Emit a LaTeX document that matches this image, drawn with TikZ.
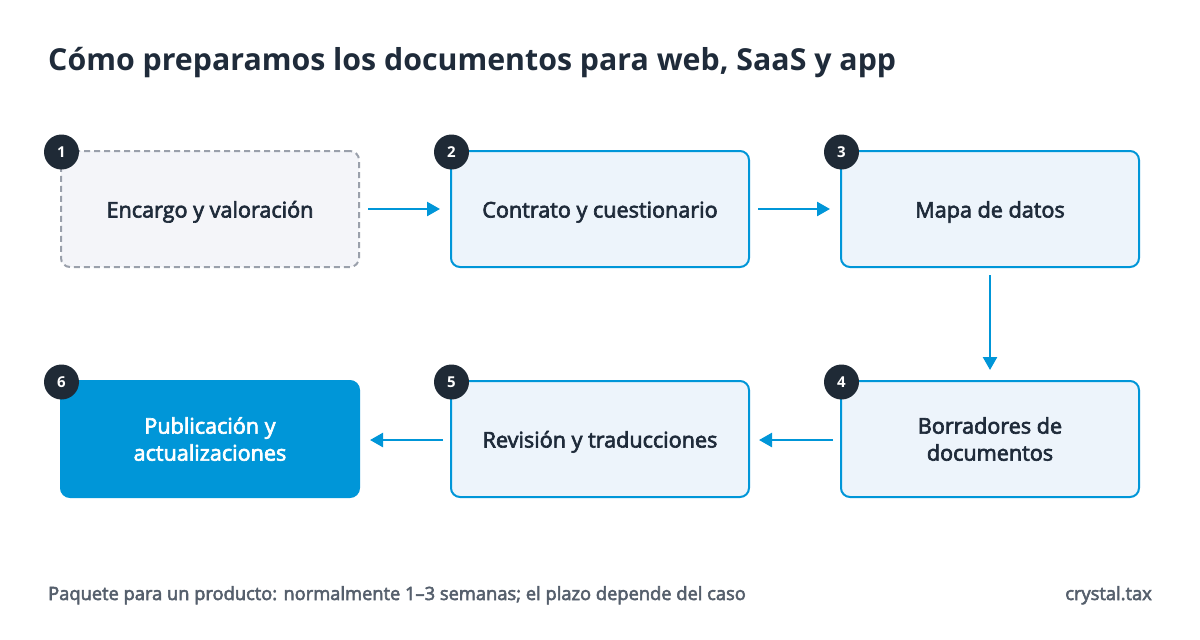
\documentclass[tikz,border=0pt]{standalone}
\usepackage{fontspec}
\setmainfont{Open Sans}
\newfontfamily\sbfont{Open Sans}[FakeBold=3]
\newcommand\bfont{\normalfont\bfseries}
\usetikzlibrary{arrows.meta}
\definecolor{ink}{HTML}{1F2B3A}
\definecolor{blue}{HTML}{0096D8}
\definecolor{boxfill}{HTML}{EDF4FB}
\definecolor{greyfill}{HTML}{F4F5F9}
\definecolor{greyline}{HTML}{9AA0AB}
\definecolor{foot}{HTML}{555F6C}
\definecolor{badge}{HTML}{1F2A36}
\tikzset{
  stepbox/.style={draw=blue, line width=2pt, fill=boxfill, rounded corners=9pt,
    minimum width=298pt, minimum height=116pt, text=ink, align=center,
    font=\sbfont\fontsize{21.6}{27}\selectfont, inner sep=0pt},
  oneline/.style={text height=22pt, text depth=5pt},
  firstbox/.style={stepbox, draw=greyline, fill=greyfill, dash pattern=on 6pt off 4pt},
  lastbox/.style={stepbox, draw=blue, fill=blue, text=white},
  badgec/.style={circle, fill=badge, minimum size=35pt, inner sep=0pt, text=white,
    font=\bfont\fontsize{15}{15}\selectfont},
  flow/.style={draw=blue, line width=2.5pt, -{Triangle[length=13pt,width=14pt]}},
}
\begin{document}
\begin{tikzpicture}[x=1pt,y=-1pt]
\fill[white] (0,0) rectangle (1200,640);
\useasboundingbox (0,0) rectangle (1200,640);
\node[anchor=base west, text=ink, font=\bfont\fontsize{30.3}{34}\selectfont, inner sep=0pt] (title) at (48,70) {Cómo preparamos los documentos para web, SaaS y app};

\node[firstbox, oneline] (b1) at (210,209) {Encargo y valoración};
\node[stepbox, oneline] (b2) at (600,209) {Contrato y cuestionario};
\node[stepbox, oneline] (b3) at (990,209) {Mapa de datos};
\node[stepbox] (b4) at (990,439) {Borradores de\\documentos};
\node[stepbox, oneline] (b5) at (600,439) {Revisión y traducciones};
\node[lastbox] (b6) at (210,439) {Publicación y\\actualizaciones};

\foreach \b/\n in {b1/1,b2/2,b3/3,b4/4,b5/5,b6/6}{
  \node[badgec] (n\n) at ([shift={(1.5pt,-2pt)}]\b.north west) {\n};
}

\draw[flow] ([xshift=8pt]b1.east) -- ([xshift=-10pt]b2.west);
\draw[flow] ([xshift=8pt]b2.east) -- ([xshift=-10pt]b3.west);
\draw[flow] ([yshift=-7pt]b3.south) -- ([yshift=10pt]b4.north);
\draw[flow] ([shift={(-7pt,-1pt)}]b4.west) -- ([shift={(9pt,-1pt)}]b5.east);
\draw[flow] ([shift={(-7pt,-1pt)}]b5.west) -- ([shift={(10pt,-1pt)}]b6.east);

\node[anchor=base west, text=foot, font=\sbfont\fontsize{18.3}{20}\selectfont, inner sep=0pt] (foot) at (48,600) {Paquete para un producto: normalmente 1–3 semanas; el plazo depende del caso};
\node[anchor=base east, text=foot, font=\sbfont\fontsize{18.3}{20}\selectfont, inner sep=0pt] (brand) at (1152,600) {crystal.tax};
\end{tikzpicture}
\end{document}
